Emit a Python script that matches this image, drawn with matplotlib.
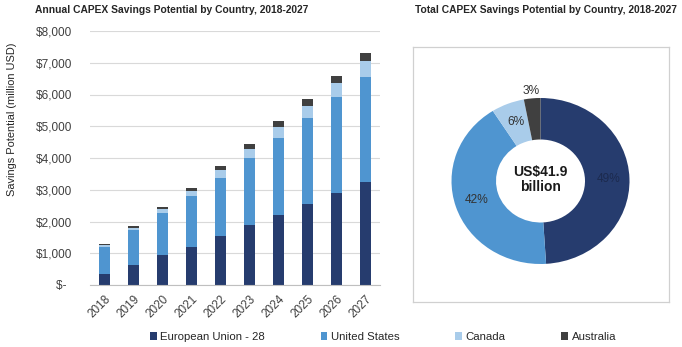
import matplotlib
matplotlib.use("Agg")
import matplotlib.pyplot as plt
from matplotlib.patches import Patch
import numpy as np

plt.rcParams['font.family'] = ['Liberation Sans', 'DejaVu Sans']

# Annual CAPEX savings potential (million USD)
years = ['2018', '2019', '2020', '2021', '2022', '2023', '2024', '2025', '2026', '2027']
eu = [350, 630, 950, 1190, 1530, 1880, 2220, 2550, 2910, 3230]
us = [860, 1100, 1310, 1600, 1850, 2110, 2410, 2710, 3000, 3320]
canada = [40, 75, 135, 170, 230, 295, 340, 370, 440, 505]
australia = [40, 55, 65, 100, 125, 155, 180, 220, 240, 265]

# Share of the ten-year total
countries = ['European Union - 28', 'United States', 'Canada', 'Australia']
shares = [49, 42, 6, 3]
total_label = 'US$41.9\nbillion'

yticks = [0, 1000, 2000, 3000, 4000, 5000, 6000, 7000, 8000]
ytick_labels = ['$-\u2002', '$1,000', '$2,000', '$3,000', '$4,000',
                '$5,000', '$6,000', '$7,000', '$8,000']

colors = ['#263C6E', '#4F95D0', '#A9CCEA', '#404040']

W, H = 682, 347
fig = plt.figure(figsize=(W / 100, H / 100), dpi=100)

# ---- stacked bars ----
ax = fig.add_axes([90 / W, 1 - 285 / H, 290 / W, 254 / H])
x = np.arange(len(years))
bottom = np.zeros(len(years))
series = [eu, us, canada, australia]
for vals, c in zip(series, colors):
    ax.bar(x, vals, width=0.4, bottom=bottom, color=c, zorder=3)
    bottom += np.array(vals)

ax.set_xlim(-0.5, len(years) - 0.5)
ax.set_ylim(0, 8000)
ax.set_yticks(yticks)
ax.set_yticklabels(ytick_labels, fontsize=8.5, color='#404040')
ax.set_xticks(x)
ax.set_xticklabels(years, fontsize=8.5, color='#404040', rotation=45,
                   ha='right', rotation_mode='anchor')
ax.tick_params(axis='both', length=0)
ax.tick_params(axis='y', pad=13)
ax.tick_params(axis='x', pad=6)
ax.grid(axis='y', color='#D9D9D9', linewidth=0.8, zorder=0)
for s in ['top', 'right', 'left']:
    ax.spines[s].set_visible(False)
ax.spines['bottom'].set_color('#BFBFBF')
ax.spines['bottom'].set_zorder(4)

fig.text(12.5 / W, 1 - 119 / H, 'Savings Potential (million USD)', rotation=90,
         ha='center', va='center', fontsize=7.9, color='#262626')
fig.text(35 / W, 1 - 10 / H, 'Annual CAPEX Savings Potential by Country, 2018-2027',
         ha='left', va='center', fontsize=7.4, fontweight='bold', color='#262626')

# ---- donut ----
bx0, by0, bw, bh = 413, 47, 256, 255
pax = fig.add_axes([bx0 / W, 1 - (by0 + bh) / H, bw / W, bh / H])
cx, cy = 540.5, 181
rx, ry = 89, 83
wedges, _ = pax.pie(shares, colors=colors, startangle=90, counterclock=False,
                    radius=1.0, wedgeprops=dict(width=0.5, edgecolor='none'))
pax.set_aspect('auto')
pax.set_xlim(-(cx - bx0) / rx, (bx0 + bw - cx) / rx)
pax.set_ylim(-(by0 + bh - cy) / ry, (cy - by0) / ry)
pax.set_frame_on(True)
for s in pax.spines.values():
    s.set_color('#D0D0D0')
    s.set_linewidth(0.9)
pax.set_xticks([])
pax.set_yticks([])

cum = np.cumsum([0] + shares)
tot = float(sum(shares))
label_r = [0.77, 0.76, 0.76, 1.09]
label_c = ['#1C2A4E', '#333333', '#333333', '#333333']
for i, v in enumerate(shares):
    mid = (cum[i] + cum[i + 1]) / 2 / tot
    ang = np.deg2rad(90 - 360 * mid)
    r = label_r[i]
    pax.text(r * np.cos(ang), r * np.sin(ang), f'{v}%', ha='center', va='center',
             fontsize=8.6, color=label_c[i])

pax.text(0, 0.02, total_label, ha='center', va='center', fontsize=10,
         fontweight='bold', color='#1A1A1A', linespacing=1.1)

fig.text(546 / W, 1 - 10 / H, 'Total CAPEX Savings Potential by Country, 2018-2027',
         ha='center', va='center', fontsize=7.4, fontweight='bold', color='#262626')

# ---- shared legend ----
handles = [Patch(facecolor=c, edgecolor='none') for c in colors]
fig.legend(handles, countries, loc='center', bbox_to_anchor=(383 / W, 1 - 337 / H),
           ncol=4, frameon=False, fontsize=8.2, handlelength=0.6, handleheight=0.6,
           handletextpad=0.3, columnspacing=4.9, labelcolor='#262626')

fig.savefig('out.png', dpi=100)
